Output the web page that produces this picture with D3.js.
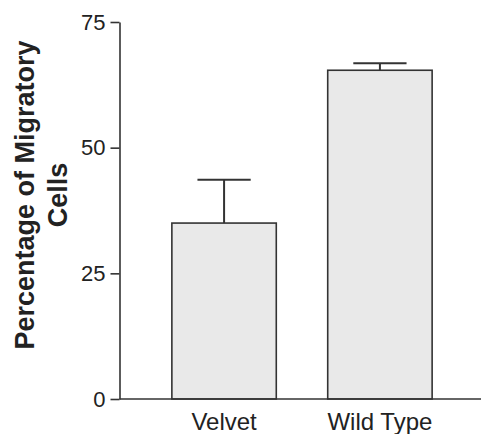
<!DOCTYPE html>
<html>
<head>
<meta charset="utf-8">
<script src="https://cdn.jsdelivr.net/npm/d3@7"></script>
<style>
  body { margin: 0; background: #fff; }
  text { font-family: Arial, "Liberation Sans", sans-serif; fill: #222; }
</style>
</head>
<body>
<script>
const categories = ["Velvet", "Wild Type"];
const values = [35, 65.4];
const errors = [8.6, 1.4];
const yTicks = [0, 25, 50, 75];

const width = 481, height = 434;

const svg = d3.select("body").append("svg")
    .attr("width", width)
    .attr("height", height);

const y = d3.scaleLinear().domain([0, 75]).range([399, 22]);
const x = d3.scaleBand().domain(categories).range([122, 482])
    .paddingInner(0.33).paddingOuter(0.32);

const data = categories.map((c, i) => ({ cat: c, v: values[i], e: errors[i] }));

// bars
svg.append("g")
    .selectAll("rect")
    .data(data)
    .join("rect")
    .attr("x", d => x(d.cat))
    .attr("y", d => y(d.v))
    .attr("width", x.bandwidth())
    .attr("height", d => y(0) - y(d.v))
    .attr("fill", "#e9e9e9")
    .attr("stroke", "#333")
    .attr("stroke-width", 1.6);

// error bars
const err = svg.append("g").attr("stroke", "#333").attr("stroke-width", 2);
err.selectAll(".stem")
    .data(data)
    .join("line")
    .attr("x1", d => x(d.cat) + x.bandwidth() / 2)
    .attr("x2", d => x(d.cat) + x.bandwidth() / 2)
    .attr("y1", d => y(d.v))
    .attr("y2", d => y(d.v + d.e));
err.selectAll(".cap")
    .data(data)
    .join("line")
    .attr("x1", d => x(d.cat) + x.bandwidth() * 0.245)
    .attr("x2", d => x(d.cat) + x.bandwidth() * 0.755)
    .attr("y1", d => y(d.v + d.e))
    .attr("y2", d => y(d.v + d.e));

// y axis
const yAxis = svg.append("g")
    .attr("transform", "translate(119.5,0)")
    .call(d3.axisLeft(y).tickValues(yTicks).tickSize(9).tickPadding(5).tickSizeOuter(0));
yAxis.select(".domain").attr("stroke", "#333").attr("stroke-width", 1.6);
yAxis.selectAll(".tick line").attr("stroke", "#333").attr("stroke-width", 1.6);
yAxis.selectAll(".tick text")
    .attr("font-size", 22)
    .attr("font-family", "Arial, 'Liberation Sans', sans-serif")
    .attr("fill", "#222");

// x axis baseline
svg.append("line")
    .attr("x1", 119.5).attr("x2", width)
    .attr("y1", y(0)).attr("y2", y(0))
    .attr("stroke", "#333").attr("stroke-width", 1.6);

// category labels
svg.append("g")
    .selectAll("text")
    .data(categories)
    .join("text")
    .attr("x", d => x(d) + x.bandwidth() / 2)
    .attr("y", 430)
    .attr("text-anchor", "middle")
    .attr("font-size", 24)
    .text(d => d);

// y label
const yl = svg.append("text")
    .attr("transform", "rotate(-90)")
    .attr("text-anchor", "middle")
    .attr("font-size", 27)
    .attr("font-weight", "bold");
yl.append("tspan").attr("x", -195).attr("y", 33.5).text("Percentage of Migratory");
yl.append("tspan").attr("x", -195).attr("y", 67).text("Cells");
</script>
</body>
</html>
